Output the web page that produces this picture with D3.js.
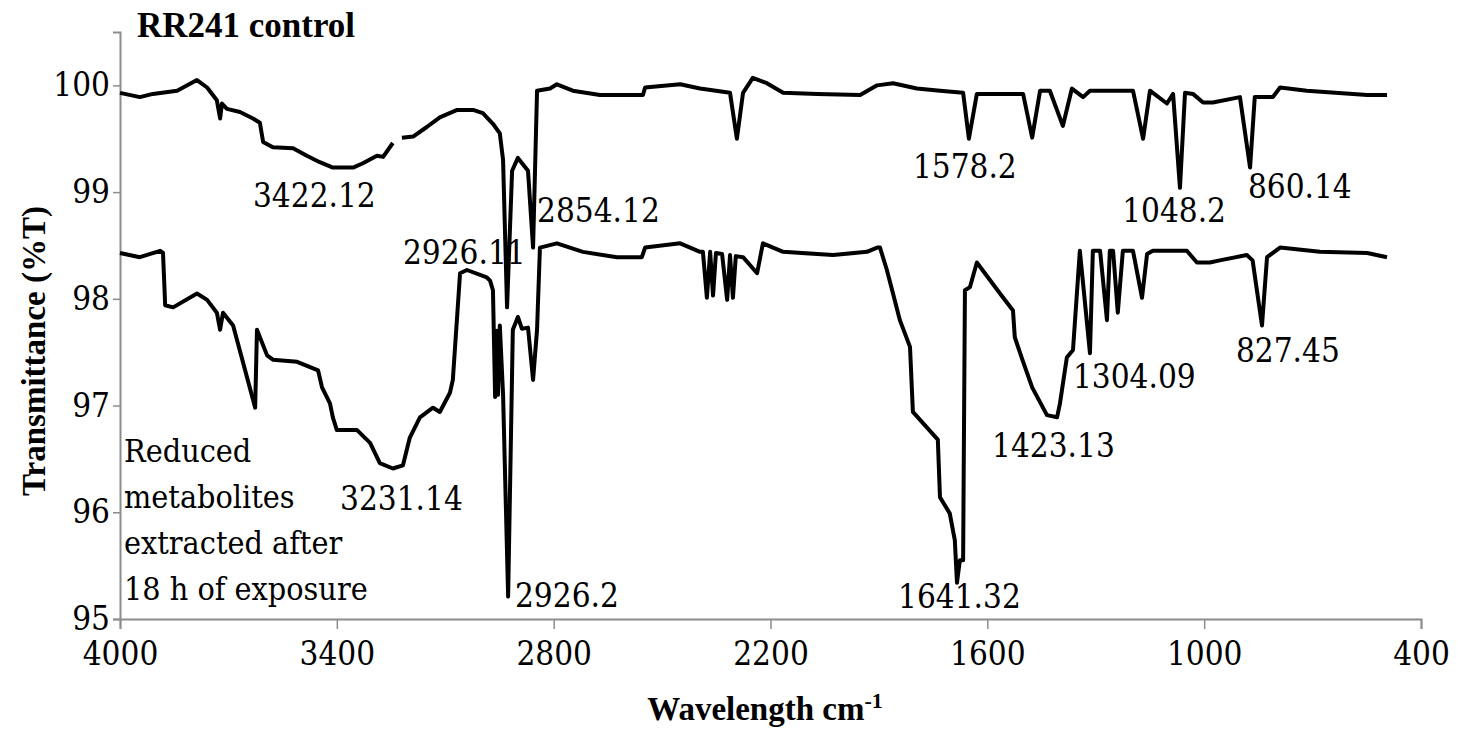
<!DOCTYPE html>
<html>
<head>
<meta charset="utf-8">
<script src="https://cdnjs.cloudflare.com/ajax/libs/d3/7.8.5/d3.min.js"></script>
<style>
  body { margin: 0; background: #fff; }
  svg text { font-family: "DejaVu Serif Condensed", "DejaVu Serif", serif; fill: #000; }
  svg text.bold { font-family: "Liberation Serif", "Times New Roman", serif; font-weight: bold; }
</style>
</head>
<body>
<script>
// FTIR spectra: RR241 control vs reduced metabolites (18 h)

// control spectrum (wavenumber cm-1, %T) - null marks a gap in the trace
var controlWave = [4000, 3945, 3909, 3842, 3787, 3759, 3732, 3723, 3718, 3704, 3668, 3632, 3613, 3604, 3577, 3521,
    3483, 3447, 3411, 3355, 3328, 3289, 3272, 3245, 3232, 3220, 3189, 3151, 3115, 3067, 3023, 2996, 2968, 2949, 2940,
    2929, 2915, 2899, 2871, 2857, 2846, 2810, 2791, 2747, 2672, 2553, 2547, 2450, 2395, 2312, 2293, 2276, 2249, 2210,
    2165, 2071, 1952, 1905, 1861, 1795, 1731, 1667, 1651, 1629, 1501, 1476, 1454, 1427, 1391, 1366, 1335, 1316, 1197,
    1169, 1150, 1103, 1086, 1067, 1053, 1031, 1003, 976, 901, 873, 860, 810, 790, 716, 549, 494];
var controlT = [99.93, 99.89, 99.92, 99.95, 100.05, 99.98, 99.86, 99.69, 99.83, 99.78, 99.75, 99.69, 99.65, 99.47, 99.42, 99.41,
    99.34, 99.28, 99.23, 99.23, 99.27, 99.34, 99.33, 99.46, null, 99.51, 99.52, 99.61, 99.70, 99.77, 99.77, 99.74, 99.64, 99.55, 99.30,
    97.92, 99.20, 99.32, 99.20, 98.48, 99.95, 99.97, 100.01, 99.95, 99.91, 99.91, 99.98, 100.01, 99.97, 99.93, 99.50, 99.93, 100.07, 100.02,
    99.93, 99.92, 99.91, 100.00, 100.02, 99.97, 99.95, 99.93, 99.50, 99.92, 99.92, 99.51, 99.95, 99.95, 99.62, 99.97, 99.89, 99.95, 99.95,
    99.50, 99.95, 99.83, 99.92, 99.04, 99.93, 99.92, 99.84, 99.84, 99.89, 99.23, 99.89, 99.89, 99.98, 99.95, 99.91, 99.91];

// reduced metabolites spectrum
var reducedWave = [4000, 3945, 3889, 3881, 3875, 3853, 3787, 3759, 3732, 3723, 3715, 3687, 3626, 3621, 3593, 3577,
    3510, 3474, 3452, 3441, 3419, 3411, 3400, 3344, 3308, 3281, 3245, 3217, 3198, 3170, 3134, 3115, 3087, 3079, 3059,
    3040, 2985, 2976, 2968, 2962, 2957, 2954, 2949, 2940, 2926, 2913, 2899, 2888, 2871, 2857, 2846, 2838, 2791, 2719,
    2625, 2556, 2547, 2450, 2395, 2387, 2376, 2367, 2359, 2351, 2334, 2320, 2312, 2304, 2296, 2276, 2237, 2221, 2165,
    2027, 1933, 1905, 1897, 1878, 1861, 1842, 1814, 1806, 1737, 1731, 1704, 1690, 1684, 1676, 1667, 1662, 1648, 1629,
    1565, 1529, 1524, 1505, 1476, 1435, 1407, 1399, 1380, 1363, 1344, 1316, 1308, 1288, 1269, 1261, 1252, 1239, 1225,
    1197, 1172, 1158, 1142, 1048, 1020, 984, 957, 882, 866, 840, 826, 790, 680, 549, 494];
var reducedT = [98.43, 98.39, 98.45, 98.43, 97.94, 97.92, 98.05, 97.99, 97.87, 97.71, 97.87, 97.75, 96.98, 97.71, 97.47, 97.43,
    97.41, 97.36, 97.33, 97.17, 97.02, 96.89, 96.77, 96.77, 96.65, 96.46, 96.41, 96.44, 96.70, 96.89, 96.98, 96.94, 97.12, 97.24, 98.24,
    98.27, 98.20, 98.17, 98.08, 97.08, 97.70, 97.10, 97.75, 97.10, 95.21, 97.71, 97.83, 97.72, 97.73, 97.24, 97.71, 98.48, 98.52, 98.44,
    98.39, 98.39, 98.48, 98.52, 98.44, 98.44, 98.01, 98.44, 98.03, 98.43, 98.42, 97.99, 98.41, 98.01, 98.40, 98.39, 98.24, 98.52, 98.44,
    98.41, 98.44, 98.48, 98.48, 98.27, 98.05, 97.80, 97.55, 96.94, 96.68, 96.14, 95.99, 95.74, 95.34, 95.55, 95.55, 98.08, 98.11, 98.34,
    98.05, 97.89, 97.64, 97.45, 97.17, 96.91, 96.89, 97.02, 97.45, 97.52, 98.45, 97.49, 98.45, 98.45, 97.80, 98.45, 98.45, 97.87, 98.45,
    98.45, 98.01, 98.42, 98.45, 98.45, 98.34, 98.34, 98.36, 98.41, 98.36, 97.75, 98.39, 98.48, 98.44, 98.43, 98.39];

// peak labels: text, wavenumber of left edge, %T of baseline
var peakText = ["3422.12", "2926.11", "2854.12", "1578.2", "1048.2", "860.14",
    "3231.14", "2926.2", "1641.32", "1423.13", "1304.09", "827.45"];
var peakWave = [3632, 3217, 2846, 1806, 1227, 879, 3391, 2907, 1847, 1587, 1363, 912];
var peakT = [98.86, 98.33, 98.72, 99.13, 98.72, 98.94, 96.02, 95.11, 95.10, 96.52, 97.16, 97.41];

var xTicks = [4000, 3400, 2800, 2200, 1600, 1000, 400];
var yTicks = [95, 96, 97, 98, 99, 100];

var margin = {top: 32, bottom: 115, left: 120, right: 37},
    width = 1458 - margin.left - margin.right,
    height = 734 - margin.top - margin.bottom;

var x = d3.scaleLinear().domain([4000, 400]).range([0, width]);
var y = d3.scaleLinear().domain([95, 100.5]).range([height, 0]);

var svg = d3.select("body").append("svg")
    .attr("width", 1458)
    .attr("height", 734)
    .append("g")
    .attr("transform", "translate(" + margin.left + "," + margin.top + ")");

// axes
var xAxis = svg.append("g")
    .attr("transform", "translate(0," + height + ")")
    .call(d3.axisBottom(x).tickValues(xTicks).tickFormat(d3.format("d")).tickSizeOuter(0).tickSize(10).tickPadding(13));
var yAxis = svg.append("g")
    .call(d3.axisLeft(y).tickValues(yTicks).tickFormat(d3.format("d")).tickSizeOuter(0).tickSize(7).tickPadding(3));

[xAxis, yAxis].forEach(function(a) {
    a.attr("font-family", null);
    a.select(".domain").attr("stroke", "#8c8c8c").attr("stroke-width", 2);
    a.selectAll(".tick line").attr("stroke", "#8c8c8c").attr("stroke-width", 1.5);
    a.selectAll(".tick text").attr("font-size", 33).attr("fill", "#000");
});

// spectra
var line = d3.line()
    .defined(function(d) { return d[1] !== null; })
    .x(function(d) { return x(d[0]); })
    .y(function(d) { return y(d[1]); });

var series = [d3.zip(controlWave, controlT), d3.zip(reducedWave, reducedT)];

svg.selectAll(".spectrum")
    .data(series)
    .enter().append("path")
    .attr("class", "spectrum")
    .attr("fill", "none")
    .attr("stroke", "#000")
    .attr("stroke-width", 4)
    .attr("stroke-linejoin", "round")
    .attr("d", line);

// peak labels
svg.selectAll(".peak")
    .data(peakText)
    .enter().append("text")
    .attr("class", "peak")
    .attr("x", function(d, i) { return x(peakWave[i]); })
    .attr("y", function(d, i) { return y(peakT[i]); })
    .attr("font-size", 33)
    .text(function(d) { return d; });

// title
svg.append("text")
    .attr("class", "bold")
    .attr("x", 17)
    .attr("y", 5)
    .attr("font-size", 35)
    .text("RR241 control");

// note for lower trace
var note = ["Reduced", "metabolites", "extracted after", "18 h of exposure"];
svg.selectAll(".note")
    .data(note)
    .enter().append("text")
    .attr("class", "note")
    .attr("x", 4)
    .attr("y", function(d, i) { return 430 + i * 46; })
    .attr("font-size", 32)
    .text(function(d) { return d; });

// axis titles
svg.append("text")
    .attr("class", "bold")
    .attr("transform", "translate(-75," + 319 + ") rotate(-90)")
    .attr("text-anchor", "middle")
    .attr("font-size", 33)
    .text("Transmittance (%T)");

var xl = svg.append("text")
    .attr("class", "bold")
    .attr("x", 645)
    .attr("y", 688)
    .attr("text-anchor", "middle")
    .attr("font-size", 33);
xl.append("tspan").text("Wavelength cm");
xl.append("tspan").attr("dy", -12).attr("font-size", 22).text("-1");
</script>
</body>
</html>
